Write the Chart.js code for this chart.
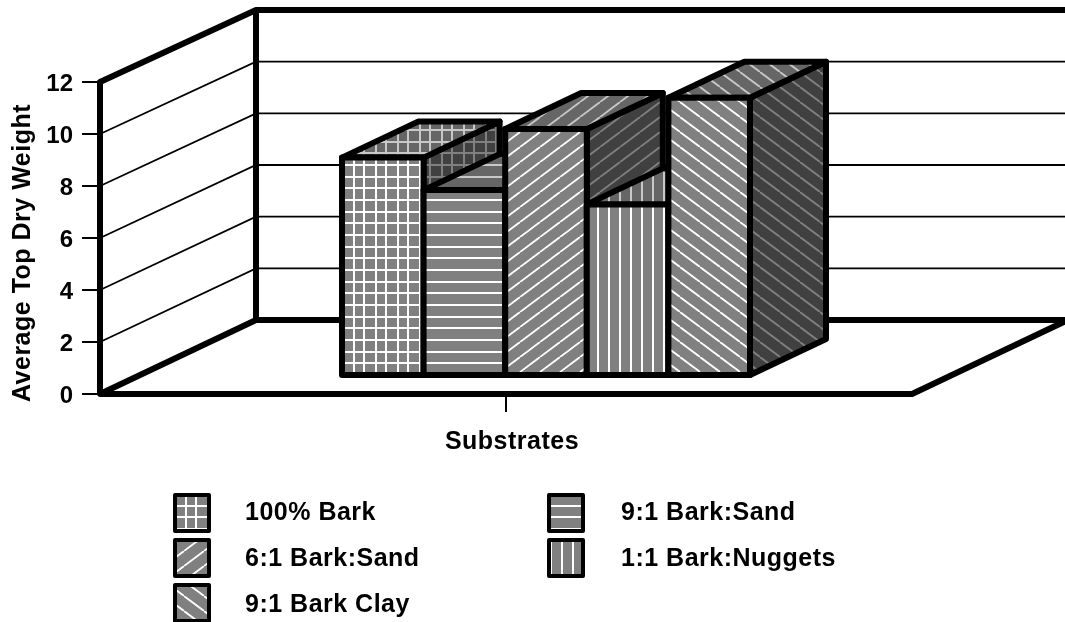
<!DOCTYPE html>
<html>
<head>
<meta charset="utf-8">
<style>
  html, body { margin: 0; padding: 0; background: #fff; }
  #wrap { position: relative; width: 1065px; height: 622px; overflow: hidden; }
</style>
<script src="https://cdn.jsdelivr.net/npm/chart.js@4/dist/chart.umd.min.js"></script>
</head>
<body>
<div id="wrap"><canvas id="barChart" width="1065" height="622"></canvas></div>
<script>
const categories = [""];
const seriesNames = ["100% Bark", "9:1 Bark:Sand", "6:1 Bark:Sand", "1:1 Bark:Nuggets", "9:1 Bark Clay"];
const seriesValues = [8.4, 7.15, 9.5, 6.6, 10.7];
const hatchNames = ["grid", "horizontal", "rising", "vertical", "falling"];
const yTicks = [0, 2, 4, 6, 8, 10, 12];
const xTitle = "Substrates";
const yTitle = "Average Top Dry Weight";

const FONT = "'Liberation Sans', Arial, sans-serif";
const HEAVY = 6;
const WALL_DX = 156;
const BAR_DX = 40, BAR_DY = -18;     // where the bars stand on the floor
const DEPTH_DX = 76, DEPTH_DY = -36; // bar depth

// back wall is very slightly squashed, 74px up at 0 and 72px up at 12
function backY(scale, v) {
  return scale.getPixelForValue(v) - 74 + v / 6;
}

// builds a repeating tile for one hatch
function makePattern(kind, bg, line) {
  const t = document.createElement("canvas");
  const ctx = t.getContext("2d");
  const diag = kind == "rising" || kind == "falling";
  const w = diag ? 20 : 22;
  const h = diag ? 15 : 35;
  t.width = w; t.height = h;
  ctx.fillStyle = bg;
  ctx.fillRect(0, 0, w, h);
  ctx.strokeStyle = line;
  ctx.lineWidth = diag ? 1.8 : 2;
  ctx.beginPath();
  if (kind == "horizontal" || kind == "grid") {
    [8, 20, 31].forEach(y => { ctx.moveTo(0, y); ctx.lineTo(w, y); });
  }
  if (kind == "grid") {
    [6, 16].forEach(x => { ctx.moveTo(x, 0); ctx.lineTo(x, h); });
  }
  if (kind == "vertical") {
    [8, 19].forEach(x => { ctx.moveTo(x, 0); ctx.lineTo(x, h); });
  }
  if (kind == "rising") {
    [-w, 0, w].forEach(o => { ctx.moveTo(o, h); ctx.lineTo(o + w, 0); });
  }
  if (kind == "falling") {
    [-w, 0, w].forEach(o => { ctx.moveTo(o, 0); ctx.lineTo(o + w, h); });
  }
  ctx.stroke();
  return ctx.createPattern(t, "repeat");
}

const frontFills = hatchNames.map(k => makePattern(k, "#808080", "#ffffff"));
const topFills = hatchNames.map(k => makePattern(k, "#666666", "#c8c8c8"));
const sideFills = hatchNames.map(k => makePattern(k, "#404040", "#808080"));

function strokePoly(ctx, pts, width) {
  ctx.beginPath();
  pts.forEach((p, i) => i ? ctx.lineTo(p[0], p[1]) : ctx.moveTo(p[0], p[1]));
  ctx.closePath();
  ctx.lineWidth = width;
  ctx.lineJoin = "round";
  ctx.strokeStyle = "#000";
  ctx.stroke();
}

function facePoly(ctx, pts, fill) {
  ctx.beginPath();
  pts.forEach((p, i) => i ? ctx.lineTo(p[0], p[1]) : ctx.moveTo(p[0], p[1]));
  ctx.closePath();
  ctx.fillStyle = fill;
  ctx.fill();
  strokePoly(ctx, pts, HEAVY);
}

const box3d = {
  id: "box3d",
  beforeDatasetsDraw(chart) {
    const { ctx, chartArea: a, scales: { y } } = chart;
    const backX = a.left + WALL_DX;
    ctx.save();
    ctx.strokeStyle = "#000";
    ctx.lineWidth = 1.8;
    // slanted and back grid lines
    yTicks.slice(1, -1).forEach(v => {
      const by = backY(y, v);
      ctx.beginPath();
      ctx.moveTo(a.left, y.getPixelForValue(v));
      ctx.lineTo(backX, by);
      ctx.lineTo(chart.width, by);
      ctx.stroke();
    });
    // heavy frame
    const top = y.getPixelForValue(12), base = y.getPixelForValue(0);
    const backTop = backY(y, 12), backBase = backY(y, 0);
    ctx.lineWidth = HEAVY;
    ctx.lineJoin = "round";
    ctx.beginPath();
    ctx.moveTo(a.left, base);
    ctx.lineTo(a.left, top);
    ctx.lineTo(backX, backTop);
    ctx.lineTo(chart.width, backTop);
    ctx.moveTo(backX, backTop);
    ctx.lineTo(backX, backBase);
    ctx.stroke();
    ctx.beginPath();
    ctx.moveTo(a.left, base);
    ctx.lineTo(a.right, base);
    ctx.lineTo(a.right + WALL_DX, backBase);
    ctx.lineTo(backX, backBase);
    ctx.closePath();
    ctx.stroke();
    ctx.restore();

    // chart.js paints datasets last to first, these have to go left to right
    // so that each bar covers the side of the one before it
    seriesNames.forEach((name, i) => {
      const meta = chart.getDatasetMeta(i);
      const bar = meta.data[0];
      const l = bar.x - bar.width / 2, r = bar.x + bar.width / 2;
      ctx.save();
      ctx.translate(BAR_DX, BAR_DY);
      facePoly(ctx, [[r, bar.y], [r + DEPTH_DX, bar.y + DEPTH_DY], [r + DEPTH_DX, bar.base + DEPTH_DY], [r, bar.base]], sideFills[i]);
      facePoly(ctx, [[l, bar.y], [l + DEPTH_DX, bar.y + DEPTH_DY], [r + DEPTH_DX, bar.y + DEPTH_DY], [r, bar.y]], topFills[i]);
      meta.controller.draw();
      strokePoly(ctx, [[l, bar.y], [r, bar.y], [r, bar.base], [l, bar.base]], HEAVY);
      ctx.restore();
    });
    return false;
  },
  afterDraw(chart) {
    const { ctx } = chart;
    ctx.save();
    ctx.fillStyle = "#000";
    ctx.font = "bold 25px " + FONT;
    ctx.letterSpacing = "0.5px"; // the reference text runs a bit wider than the font does
    ctx.textBaseline = "alphabetic";
    // axis titles sit off centre in the reference so scale titles can't place them
    ctx.textAlign = "center";
    ctx.fillText(xTitle, 512, 449);
    ctx.save();
    ctx.translate(30, 253);
    ctx.rotate(-Math.PI / 2);
    ctx.fillText(yTitle, 0, 0);
    ctx.restore();
    ctx.textAlign = "left";
    // two column legend, the stock one can't line its columns up
    const colX = [175, 549], textX = [245, 621], rowY = [495, 540, 585], textY = [520, 566, 612];
    chart.data.datasets.forEach((ds, i) => {
      const col = i % 2, row = Math.floor(i / 2);
      ctx.save();
      ctx.translate(4, -4);
      ctx.fillStyle = frontFills[i];
      ctx.fillRect(colX[col] - 4, rowY[row] + 4, 34, 36);
      ctx.strokeStyle = "#000";
      ctx.lineWidth = 4;
      ctx.lineJoin = "round";
      ctx.strokeRect(colX[col] - 4, rowY[row] + 4, 34, 36);
      ctx.restore();
      ctx.fillText(ds.label, textX[col], textY[row]);
    });
    ctx.restore();
  }
};

new Chart(document.getElementById("barChart").getContext("2d"), {
  type: "bar",
  data: {
    labels: categories,
    datasets: seriesNames.map((name, i) => ({
      label: name,
      data: [seriesValues[i]],
      backgroundColor: frontFills[i],
      borderWidth: 0
    }))
  },
  options: {
    responsive: false,
    animation: false,
    layout: { padding: { left: 0, top: 82, right: 153, bottom: 0 } },
    datasets: { bar: { barPercentage: 1, categoryPercentage: 408 / 812 } },
    plugins: { legend: { display: false }, tooltip: { enabled: false } },
    scales: {
      x: {
        grid: { offset: false, drawOnChartArea: false, color: "#000", lineWidth: 2, tickLength: 18 },
        border: { display: false },
        ticks: { display: false },
        afterFit(s) { s.height = 228; }
      },
      y: {
        min: 0,
        max: 12,
        afterBuildTicks(s) { s.ticks = yTicks.map(v => ({ value: v })); },
        grid: { drawOnChartArea: false, color: "#000", lineWidth: 2, tickLength: 18 },
        border: { display: false },
        ticks: { color: "#000", font: { family: FONT, size: 24, weight: "bold" }, padding: 9, labelOffset: 2 },
        afterFit(s) { s.width = 100; }
      }
    }
  },
  plugins: [box3d]
});
</script>
</body>
</html>
